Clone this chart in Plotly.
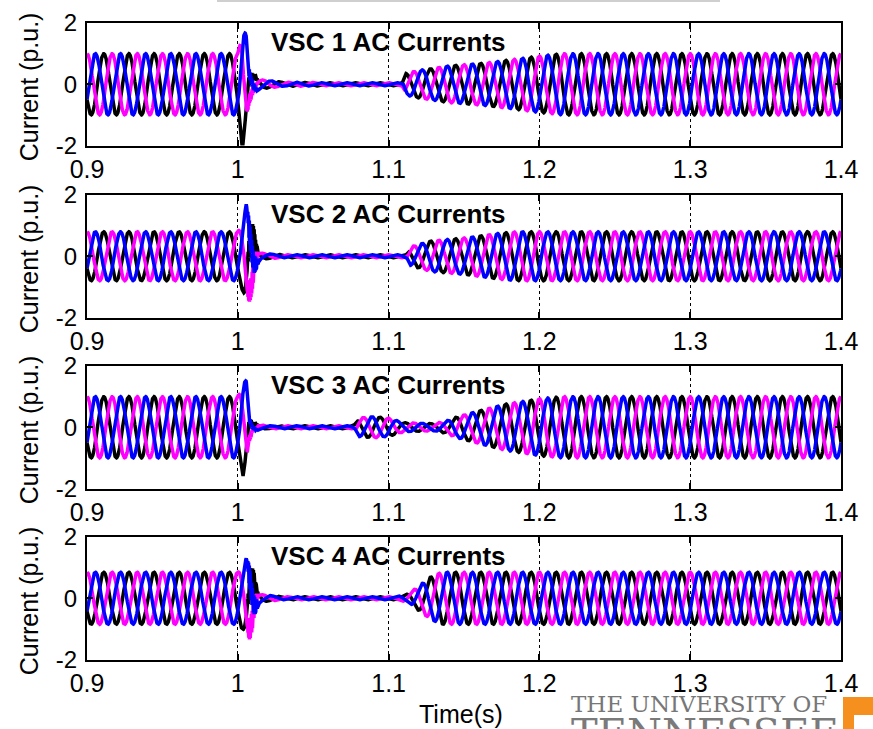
import numpy as np
import plotly.graph_objects as go

# ---------------- data ----------------
F_HZ = 60.0                      # carrier frequency (6 cycles per 0.1 s)
T_START, T_END = 0.9, 1.4
PHASE_COLORS = ["#000000", "#ff00ff", "#0000ff"]   # black, magenta, blue
PHASE_DEG = [210.0, 90.0, -30.0]                   # phase of each current at t = 0.9 s

PANEL_TITLES = ["VSC 1 AC Currents", "VSC 2 AC Currents",
                "VSC 3 AC Currents", "VSC 4 AC Currents"]

# amplitude envelopes (time in s, amplitude in p.u.)
VSC1_ENV_T = [0.9, 1.0, 1.0015, 1.003, 1.0055, 1.0075, 1.01, 1.015, 1.03, 1.06,
              1.109, 1.111, 1.12, 1.14, 1.165, 1.2, 1.215, 1.4]
VSC1_ENV_A = [1.0, 1.0, 1.5, 2.1, 1.6, 0.5, 0.25, 0.15, 0.07, 0.05,
              0.05, 0.35, 0.45, 0.6, 0.7, 0.92, 1.0, 1.0]

VSC2_ENV_T = [0.9, 1.0, 1.003, 1.0056, 1.0075, 1.0096, 1.012, 1.015, 1.03,
              1.112, 1.114, 1.128, 1.151, 1.173, 1.185, 1.4]
VSC2_ENV_A = [0.8, 0.8, 1.1, 1.7, 1.2, 0.9, 0.3, 0.1, 0.05,
              0.05, 0.3, 0.5, 0.6, 0.75, 0.8, 0.8]

VSC3_ENV_T = [0.9, 1.0, 1.002, 1.0035, 1.0056, 1.0075, 1.01, 1.02, 1.077, 1.08,
              1.09, 1.1, 1.11, 1.13, 1.138, 1.146, 1.161, 1.177, 1.2, 1.215, 1.4]
VSC3_ENV_A = [1.0, 1.0, 1.3, 1.65, 1.5, 0.4, 0.1, 0.05, 0.05, 0.3,
              0.35, 0.3, 0.15, 0.12, 0.2, 0.35, 0.55, 0.75, 0.93, 1.0, 1.0]

VSC4_ENV_T = [0.9, 1.0, 1.003, 1.0056, 1.0075, 1.0096, 1.012, 1.015, 1.03,
              1.104, 1.113, 1.12, 1.128, 1.135, 1.4]
VSC4_ENV_A = [0.85, 0.85, 1.0, 1.3, 1.05, 0.8, 0.3, 0.12, 0.05,
              0.05, 0.15, 0.4, 0.7, 0.85, 0.85]

# high-frequency ringing just after the fault
RING_HZ = 2000.0
RING_T = [1.006, 1.0075, 1.011, 1.014]
VSC1_RING_A = [0.0, 0.15, 0.1, 0.0]
VSC2_RING_A = [0.0, 0.35, 0.3, 0.0]
VSC3_RING_A = [0.0, 0.1, 0.05, 0.0]
VSC4_RING_A = [0.0, 0.35, 0.3, 0.0]

X_TICKS = [0.9, 1.0, 1.1, 1.2, 1.3, 1.4]
X_TICK_TEXT = ["0.9", "1", "1.1", "1.2", "1.3", "1.4"]
Y_TICKS = [-2, 0, 2]
Y_TICK_TEXT = ["-2", "0", "2"]

ENVS = [(VSC1_ENV_T, VSC1_ENV_A, VSC1_RING_A),
        (VSC2_ENV_T, VSC2_ENV_A, VSC2_RING_A),
        (VSC3_ENV_T, VSC3_ENV_A, VSC3_RING_A),
        (VSC4_ENV_T, VSC4_ENV_A, VSC4_RING_A)]

# ---------------- layout geometry (pixels) ----------------
W, H = 873, 729
X_LEFT_PX, X_RIGHT_PX = 87, 841
PANEL_TOP_PX = [23, 195, 366, 537]
PANEL_H_PX = 122.5

FONT = "Liberation Sans, Arial, sans-serif"

fig = go.Figure()

t = np.linspace(T_START, T_END, 10001)
for i, (et, ea, ra) in enumerate(ENVS):
    env = np.interp(t, et, ea)
    ring = np.interp(t, RING_T, ra)
    xa = "x" if i == 0 else f"x{i+1}"
    ya = "y" if i == 0 else f"y{i+1}"
    for color, ph in zip(PHASE_COLORS, PHASE_DEG):
        phr = np.deg2rad(ph)
        y = env * np.sin(2 * np.pi * F_HZ * (t - T_START) + phr) \
            + ring * np.sin(2 * np.pi * RING_HZ * t + phr)
        fig.add_trace(go.Scatter(x=t, y=y, mode="lines",
                                 line=dict(color=color, width=3.5),
                                 xaxis=xa, yaxis=ya, hoverinfo="skip",
                                 showlegend=False))

layout = dict(width=W, height=H, autosize=False,
              margin=dict(l=0, r=0, t=0, b=0, pad=0, autoexpand=False),
              paper_bgcolor="white", plot_bgcolor="white",
              font=dict(family=FONT, color="black"), showlegend=False)

annotations = []
shapes = []
for i in range(4):
    top = PANEL_TOP_PX[i]
    bot = top + PANEL_H_PX
    sfx = "" if i == 0 else str(i + 1)
    layout["xaxis" + sfx] = dict(
        domain=[X_LEFT_PX / W, X_RIGHT_PX / W], range=[T_START, T_END],
        anchor="y" + sfx, tickmode="array", tickvals=X_TICKS, ticktext=X_TICK_TEXT,
        ticks="inside", ticklen=6, tickwidth=1.5, tickcolor="black",
        showline=True, linewidth=2, linecolor="black", mirror="ticks",
        showgrid=True, gridcolor="black", griddash="dot", gridwidth=1.2,
        zeroline=False, automargin=False,
        tickfont=dict(family=FONT, size=25, color="black"))
    layout["yaxis" + sfx] = dict(
        domain=[1 - bot / H, 1 - top / H], range=[-2, 2],
        anchor="x" + sfx, tickmode="array", tickvals=Y_TICKS, ticktext=Y_TICK_TEXT,
        ticks="inside", ticklen=6, tickwidth=1.5, tickcolor="black",
        showline=True, linewidth=2, linecolor="black", mirror="ticks",
        showgrid=False, zeroline=False, ticklabelstandoff=3, automargin=False,
        tickfont=dict(family=FONT, size=24, color="black"))
    annotations.append(dict(
        text="<b>" + PANEL_TITLES[i] + "</b>", xref="x" + sfx, yref="y" + sfx,
        x=1.1, y=1.37, xanchor="center", yanchor="middle", showarrow=False,
        font=dict(family=FONT, size=26, color="black")))
    annotations.append(dict(
        text="Current (p.u.)", xref="paper", yref="paper", textangle=-90,
        x=29 / W, y=1 - (top + PANEL_H_PX / 2 + 3) / H, xanchor="center",
        yanchor="middle", showarrow=False,
        font=dict(family=FONT, size=25, color="black")))

annotations.append(dict(text="Time(s)", xref="paper", yref="paper",
                        x=461 / W, y=1 - 714 / H, xanchor="center", yanchor="middle",
                        showarrow=False, font=dict(family=FONT, size=25, color="black")))

# university logo (partially cut off at the bottom edge)
annotations.append(dict(text="THE UNIVERSITY OF", xref="paper", yref="paper",
                        x=569 / W, y=1 - 704 / H, xanchor="left", yanchor="middle",
                        showarrow=False,
                        font=dict(family="DejaVu Serif, serif", size=23, color="#777777")))
annotations.append(dict(text="TENNESSEE", xref="paper", yref="paper",
                        x=569 / W, y=1 - 733 / H, xanchor="left", yanchor="middle",
                        showarrow=False,
                        font=dict(family="DejaVu Serif, serif", size=40, color="#7a7a7a")))
shapes.append(dict(type="rect", xref="paper", yref="paper",
                   x0=843 / W, x1=1.0, y0=1 - 715 / H, y1=1 - 697 / H,
                   fillcolor="#f5901e", line=dict(width=0), layer="above"))
shapes.append(dict(type="rect", xref="paper", yref="paper",
                   x0=843 / W, x1=854 / W, y0=0.0, y1=1 - 715 / H,
                   fillcolor="#f5901e", line=dict(width=0), layer="above"))
# faint grey line at the very top
shapes.append(dict(type="line", xref="paper", yref="paper",
                   x0=217 / W, x1=720 / W, y0=1 - 1 / H, y1=1 - 1 / H,
                   line=dict(color="#cfcfcf", width=2)))

layout["annotations"] = annotations
layout["shapes"] = shapes
fig.update_layout(**layout)
fig.write_html("out.html")
